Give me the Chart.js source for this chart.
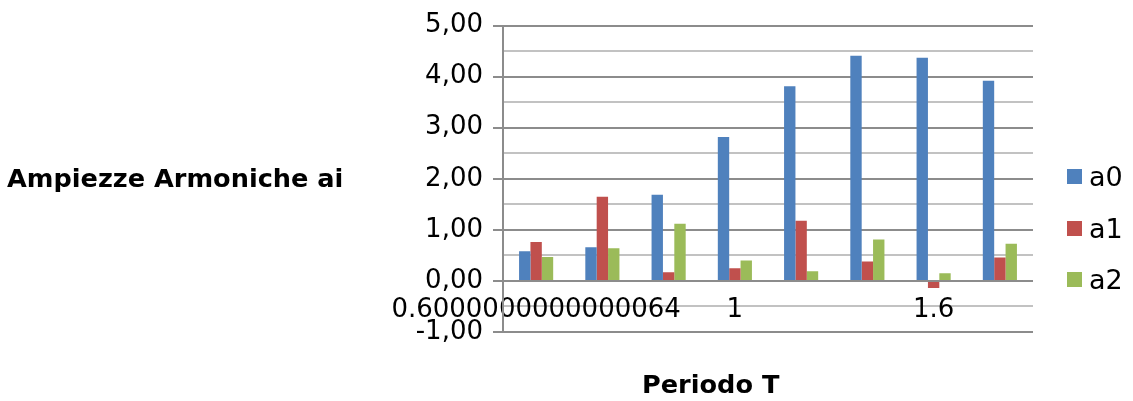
<!DOCTYPE html>
<html>
<head>
<meta charset="utf-8">
<script src="https://cdn.jsdelivr.net/npm/chart.js@4"></script>
<style>
    body { margin: 0; background: #fff; }
    #wrap { position: relative; width: 1133px; height: 401px; }
    #wrap canvas { position: absolute; left: 0; top: 0; }
    .lbl { position: absolute; white-space: nowrap; font-family: "DejaVu Sans", sans-serif; color: #000; }
    .bold { font-weight: bold; font-size: 25.6px; line-height: 26px; }
    .leg { font-size: 27px; line-height: 27px; }
    .box { position: absolute; width: 15px; height: 15px; }
</style>
</head>
<body>
<div id="wrap">
    <canvas id="chart" width="1133" height="401"></canvas>
    <div class="lbl bold" id="y-title" style="left:7px; top:165px;">Ampiezze Armoniche ai</div>
    <div class="lbl bold" id="x-title" style="left:642px; top:371px;">Periodo T</div>
    <div id="legend"></div>
</div>
<script>
    // categories (Periodo T) and harmonic amplitudes
    const periods = ['0.6000000000000064', '0.8', '0.9', '1', '1.2', '1.4', '1.6', '1.8'];
    const a0 = [0.58, 0.66, 1.69, 2.82, 3.81, 4.41, 4.37, 3.92];
    const a1 = [0.76, 1.65, 0.17, 0.25, 1.18, 0.38, -0.14, 0.46];
    const a2 = [0.47, 0.64, 1.12, 0.40, 0.19, 0.81, 0.15, 0.73];
    const seriesNames = ['a0', 'a1', 'a2'];
    const seriesColors = ['#4f81bd', '#c0504d', '#9bbb59'];

    const tickFont = { family: '"DejaVu Sans", sans-serif', size: 26 };
    const isMajor = (v) => Math.abs(v - Math.round(v)) < 1e-9;

    // legend, kept in html so it can sit where the original has it
    const legendEl = document.getElementById('legend');
    seriesNames.forEach((name, i) => {
        const top = 169 + i * 51.5;
        const box = document.createElement('div');
        box.className = 'box';
        box.style.left = '1067px';
        box.style.top = top + 'px';
        box.style.background = seriesColors[i];
        legendEl.appendChild(box);
        const txt = document.createElement('div');
        txt.className = 'lbl leg';
        txt.style.left = '1089px';
        txt.style.top = (top - 6) + 'px';
        txt.textContent = name;
        legendEl.appendChild(txt);
    });

    const values = [a0, a1, a2];
    new Chart(document.getElementById('chart'), {
        type: 'bar',
        data: {
            labels: periods,
            datasets: seriesNames.map((name, i) => ({
                label: name,
                data: values[i],
                backgroundColor: seriesColors[i],
                borderWidth: 0,
                categoryPercentage: 0.515,
                barPercentage: 1.0
            }))
        },
        options: {
            responsive: false,
            animation: false,
            events: [],
            layout: { padding: { left: 343, right: 100, top: 23, bottom: 69 } },
            plugins: {
                legend: { display: false },
                tooltip: { enabled: false }
            },
            scales: {
                x: {
                    position: { y: 0 },
                    grid: { display: false },
                    border: { display: false },
                    ticks: {
                        autoSkip: false,
                        maxRotation: 0,
                        minRotation: 0,
                        padding: 6,
                        color: '#000',
                        font: tickFont,
                        callback: (v, i) => (i % 3 === 0 ? periods[i] : '')
                    }
                },
                y: {
                    min: -1,
                    max: 5,
                    afterFit: (scale) => { scale.width = 160; },
                    border: { display: true, color: '#8c8c8c', width: 2 },
                    grid: {
                        lineWidth: 2,
                        color: (ctx) => (isMajor(ctx.tick.value) ? '#8c8c8c' : '#c2c2c2'),
                        tickColor: (ctx) => (isMajor(ctx.tick.value) ? '#8c8c8c' : 'rgba(0,0,0,0)'),
                        tickLength: 10
                    },
                    ticks: {
                        stepSize: 0.5,
                        maxTicksLimit: 20,
                        autoSkip: false,
                        padding: 10,
                        color: '#000',
                        font: tickFont,
                        callback: (v) => (isMajor(v) ? v.toFixed(2).replace('.', ',') : '')
                    }
                }
            }
        }
    });
</script>
</body>
</html>
